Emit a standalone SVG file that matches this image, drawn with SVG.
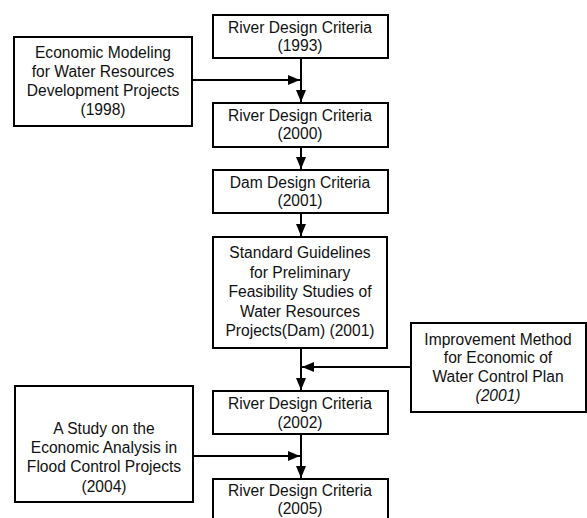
<svg xmlns="http://www.w3.org/2000/svg" width="587" height="518" viewBox="0 0 587 518">
<style>
.box{fill:#fff;stroke:#000;stroke-width:2}
.t{font-family:"Liberation Sans",Arial,sans-serif;font-size:15.6px;fill:#111;text-anchor:middle}
.c{stroke:#000;stroke-width:2;fill:none}
</style>
<defs>
<marker id="ah" markerUnits="userSpaceOnUse" markerWidth="13" markerHeight="10" refX="12" refY="5" orient="auto">
<path d="M0,0 L12,5 L0,10 z" fill="#000"/>
</marker>
</defs>
<rect width="587" height="518" fill="#fff"/>
<g id="connectors">
<line class="c" x1="301" y1="58" x2="301" y2="102" marker-end="url(#ah)"/>
<line class="c" x1="192" y1="80" x2="300" y2="80" marker-end="url(#ah)"/>
<line class="c" x1="301" y1="147" x2="301" y2="169" marker-end="url(#ah)"/>
<line class="c" x1="301" y1="213" x2="301" y2="236" marker-end="url(#ah)"/>
<line class="c" x1="301" y1="348" x2="301" y2="390" marker-end="url(#ah)"/>
<line class="c" x1="411" y1="367" x2="302" y2="367" marker-end="url(#ah)"/>
<line class="c" x1="301" y1="434" x2="301" y2="478" marker-end="url(#ah)"/>
<line class="c" x1="193" y1="456" x2="300" y2="456" marker-end="url(#ah)"/>
</g>
<g id="n1">
<rect class="box" x="213" y="15" width="175" height="43"/>
<text class="t" x="300" y="33">River Design Criteria</text>
<text class="t" x="300" y="51">(1993)</text>
</g>
<g id="n2">
<rect class="box" x="14" y="37" width="178" height="89"/>
<text class="t" x="103" y="58">Economic Modeling</text>
<text class="t" x="103" y="77">for Water Resources</text>
<text class="t" x="103" y="96">Development Projects</text>
<text class="t" x="103" y="115">(1998)</text>
</g>
<g id="n3">
<rect class="box" x="213" y="103" width="175" height="44"/>
<text class="t" x="300" y="121">River Design Criteria</text>
<text class="t" x="300" y="139">(2000)</text>
</g>
<g id="n4">
<rect class="box" x="213" y="170" width="175" height="43"/>
<text class="t" x="300" y="188">Dam Design Criteria</text>
<text class="t" x="300" y="206">(2001)</text>
</g>
<g id="n5">
<rect class="box" x="213" y="237" width="174" height="111"/>
<text class="t" x="300" y="258">Standard Guidelines</text>
<text class="t" x="300" y="278">for Preliminary</text>
<text class="t" x="300" y="297">Feasibility Studies of</text>
<text class="t" x="300" y="317">Water Resources</text>
<text class="t" x="300" y="336">Projects(Dam) (2001)</text>
</g>
<g id="n6">
<rect class="box" x="411" y="323" width="175" height="89"/>
<text class="t" x="498" y="345">Improvement Method</text>
<text class="t" x="498" y="363">for Economic of</text>
<text class="t" x="498" y="382">Water Control Plan</text>
<text class="t" x="498" y="401" font-style="italic">(2001)</text>
</g>
<g id="n7">
<rect class="box" x="213" y="391" width="175" height="43"/>
<text class="t" x="300" y="409">River Design Criteria</text>
<text class="t" x="300" y="428">(2002)</text>
</g>
<g id="n8">
<rect class="box" x="15" y="386" width="178" height="116"/>
<text class="t" x="104" y="434">A Study on the</text>
<text class="t" x="104" y="453">Economic Analysis in</text>
<text class="t" x="104" y="472">Flood Control Projects</text>
<text class="t" x="104" y="492">(2004)</text>
</g>
<g id="n9">
<rect class="box" x="213" y="479" width="175" height="42"/>
<text class="t" x="300" y="496">River Design Criteria</text>
<text class="t" x="300" y="514">(2005)</text>
</g>
</svg>
